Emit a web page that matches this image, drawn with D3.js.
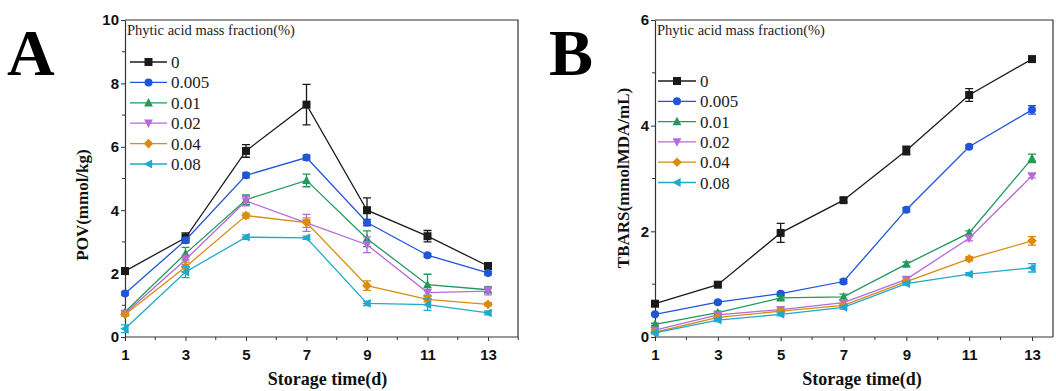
<!DOCTYPE html>
<html>
<head>
<meta charset="utf-8">
<script src="https://cdn.jsdelivr.net/npm/d3@7"></script>
<style>
  html, body { margin: 0; padding: 0; background: #fff; }
  svg { display: block; font-family: "Liberation Serif", "Times New Roman", serif; }
</style>
</head>
<body>
<svg id="chart" width="1056" height="391"></svg>
<script>
// storage days
const days = [1, 3, 5, 7, 9, 11, 13];
const groups = ["0", "0.005", "0.01", "0.02", "0.04", "0.08"];
const colors = ["#1a1a1a", "#1f56d8", "#1f9a5a", "#b66ad8", "#d88c10", "#1eaacd"];
const markers = ["square", "circle", "triangle", "triangleDown", "diamond", "triangleLeft"];

// POV (mmol/kg)
const povMean = [
  [2.08, 3.13, 5.87, 7.33, 4.00, 3.18, 2.24],
  [1.37, 3.05, 5.10, 5.66, 3.61, 2.58, 2.02],
  [0.79, 2.63, 4.33, 4.94, 3.10, 1.65, 1.49],
  [0.74, 2.44, 4.29, 3.60, 2.91, 1.40, 1.45],
  [0.71, 2.21, 3.83, 3.61, 1.62, 1.19, 1.03],
  [0.26, 2.05, 3.15, 3.13, 1.06, 1.02, 0.76]
];
const povErr = [
  [0.10, 0.15, 0.20, 0.64, 0.39, 0.18, 0.07],
  [0.05, 0.08, 0.08, 0.08, 0.10, 0.05, 0.05],
  [0.05, 0.20, 0.15, 0.20, 0.25, 0.33, 0.10],
  [0.05, 0.15, 0.15, 0.27, 0.25, 0.10, 0.12],
  [0.05, 0.15, 0.08, 0.15, 0.15, 0.08, 0.05],
  [0.12, 0.18, 0.07, 0.05, 0.07, 0.18, 0.06]
];

// TBARS (mmolMDA/mL)
const tbarsMean = [
  [0.63, 0.99, 1.97, 2.59, 3.53, 4.58, 5.26],
  [0.43, 0.66, 0.82, 1.05, 2.41, 3.60, 4.30],
  [0.24, 0.46, 0.74, 0.76, 1.38, 1.97, 3.38],
  [0.13, 0.42, 0.52, 0.65, 1.09, 1.87, 3.05],
  [0.09, 0.37, 0.49, 0.60, 1.05, 1.48, 1.82],
  [0.08, 0.32, 0.43, 0.56, 1.01, 1.19, 1.31]
];
const tbarsErr = [
  [0.03, 0.03, 0.18, 0.04, 0.08, 0.12, 0.03],
  [0.02, 0.03, 0.03, 0.04, 0.04, 0.03, 0.08],
  [0.02, 0.03, 0.03, 0.05, 0.04, 0.04, 0.08],
  [0.02, 0.03, 0.03, 0.03, 0.03, 0.05, 0.04],
  [0.02, 0.03, 0.03, 0.03, 0.03, 0.04, 0.08],
  [0.02, 0.03, 0.03, 0.03, 0.03, 0.03, 0.08]
];

const svg = d3.select("#chart");

function markerPath(type, size) {
  const s = size;
  switch (type) {
    case "square": return d3.symbol(d3.symbolSquare, s * s)();
    case "circle": return d3.symbol(d3.symbolCircle, Math.PI * (s / 2) * (s / 2))();
    case "diamond": return `M0,${-s * 0.6}L${s * 0.6},0L0,${s * 0.6}L${-s * 0.6},0Z`;
    case "triangle": return `M0,${-s * 0.6}L${s * 0.55},${s * 0.45}L${-s * 0.55},${s * 0.45}Z`;
    case "triangleDown": return `M0,${s * 0.6}L${s * 0.55},${-s * 0.45}L${-s * 0.55},${-s * 0.45}Z`;
    case "triangleLeft": return `M${-s * 0.6},0L${s * 0.45},${s * 0.55}L${s * 0.45},${-s * 0.55}Z`;
  }
}

function drawPanel(cfg) {
  const x = d3.scaleLinear().domain([1, 13]).range([cfg.left, cfg.x13]);
  const y = d3.scaleLinear().domain([0, cfg.yMax]).range([cfg.bottom, cfg.top]);
  const g = svg.append("g");

  // frame (top + right)
  g.append("path")
    .attr("d", `M${cfg.left},${cfg.top}H${cfg.right}V${cfg.bottom}`)
    .attr("fill", "none").attr("stroke", "#333").attr("stroke-width", 1.2);

  // x axis
  const xAxis = g.append("g").attr("transform", `translate(0,${cfg.bottom})`)
    .call(d3.axisBottom(x).tickValues(days).tickFormat(d3.format("d")).tickSize(4).tickSizeOuter(0));
  xAxis.select(".domain").attr("d", `M${cfg.left},0H${cfg.right}`).attr("stroke", "#333").attr("stroke-width", 1.2);
  xAxis.selectAll(".tick line").attr("stroke", "#333");
  xAxis.selectAll(".tick text").attr("font-size", 15).attr("font-weight", "bold").attr("fill", "#111").attr("dy", "1.05em");
  xAxis.selectAll(".minor").data(d3.range(2, cfg.xEnd + 1, 2)).join("line")
    .attr("x1", d => x(d)).attr("x2", d => x(d)).attr("y1", 0).attr("y2", 3)
    .attr("stroke", "#333");

  // y axis
  const yAxis = g.append("g").attr("transform", `translate(${cfg.left},0)`)
    .call(d3.axisLeft(y).tickValues(cfg.yTicks).tickFormat(d3.format("d")).tickSize(4).tickSizeOuter(0));
  yAxis.select(".domain").attr("stroke", "#333").attr("stroke-width", 1.2);
  yAxis.selectAll(".tick line").attr("stroke", "#333");
  yAxis.selectAll(".tick text").attr("font-size", 15).attr("font-weight", "bold").attr("fill", "#111").attr("x", -6);
  yAxis.selectAll(".minor").data(cfg.yMinor).join("line")
    .attr("y1", d => y(d)).attr("y2", d => y(d)).attr("x1", 0).attr("x2", -3)
    .attr("stroke", "#333");

  // series
  const line = d3.line().x((d, i) => x(days[i])).y(d => y(d));
  cfg.mean.forEach((vals, si) => {
    const c = colors[si];
    const sg = g.append("g");
    sg.append("path").attr("d", line(vals)).attr("fill", "none")
      .attr("stroke", c).attr("stroke-width", 1.3);
    vals.forEach((v, i) => {
      const e = cfg.err[si][i];
      const cx = x(days[i]);
      sg.append("path")
        .attr("d", `M${cx},${y(v - e)}V${y(v + e)}M${cx - 4},${y(v - e)}H${cx + 4}M${cx - 4},${y(v + e)}H${cx + 4}`)
        .attr("stroke", c).attr("stroke-width", 1.3).attr("fill", "none");
      sg.append("path").attr("d", markerPath(markers[si], 8))
        .attr("transform", `translate(${cx},${y(v)})`).attr("fill", c);
    });
  });

  // legend
  g.append("text").attr("x", cfg.left + 2).attr("y", cfg.top + 15)
    .attr("font-size", 14.5).attr("fill", "#222").text("Phytic acid mass fraction(%)");
  groups.forEach((name, i) => {
    const ly = cfg.legY + i * cfg.legStep;
    g.append("line").attr("x1", cfg.legX).attr("x2", cfg.legX + cfg.legLen)
      .attr("y1", ly).attr("y2", ly).attr("stroke", colors[i]).attr("stroke-width", 1.3);
    g.append("path").attr("d", markerPath(markers[i], 8))
      .attr("transform", `translate(${cfg.legX + cfg.legLen / 2},${ly})`).attr("fill", colors[i]);
    g.append("text").attr("x", cfg.legX + cfg.legLen + 4).attr("y", ly + 6)
      .attr("font-size", 17).attr("fill", "#222").text(name);
  });

  // axis titles
  g.append("text").attr("x", (cfg.left + cfg.right) / 2 + cfg.xTitleShift).attr("y", 385)
    .attr("text-anchor", "middle").attr("font-size", 18).attr("font-weight", "bold").attr("fill", "#111")
    .text("Storage time(d)");
  g.append("text")
    .attr("transform", `translate(${cfg.yTitleX},${cfg.yTitleY}) rotate(-90)`)
    .attr("text-anchor", "middle").attr("font-size", 17).attr("font-weight", "bold").attr("fill", "#111")
    .text(cfg.yTitle);

  // panel letter
  g.append("text").attr("x", cfg.letterX).attr("y", 75)
    .attr("font-size", 66).attr("font-weight", "bold").attr("fill", "#000").text(cfg.letter);
}

drawPanel({
  letter: "A", letterX: 7,
  left: 125, x13: 488, right: 518, xEnd: 14, top: 20, bottom: 337,
  yMax: 10, yTicks: [0, 2, 4, 6, 8, 10], yMinor: [1, 3, 5, 7, 9],
  mean: povMean, err: povErr,
  legX: 130, legY: 62, legStep: 20.4, legLen: 37,
  yTitle: "POV(mmol/kg)", yTitleX: 88, yTitleY: 205, xTitleShift: 6
});

drawPanel({
  letter: "B", letterX: 549,
  left: 655, x13: 1032, right: 1053, xEnd: 13, top: 20, bottom: 337,
  yMax: 6, yTicks: [0, 2, 4, 6], yMinor: [1, 3, 5],
  mean: tbarsMean, err: tbarsErr,
  legX: 658, legY: 81, legStep: 20.3, legLen: 38,
  yTitle: "TBARS(mmolMDA/mL)", yTitleX: 629, yTitleY: 178, xTitleShift: 8
});
</script>
</body>
</html>
